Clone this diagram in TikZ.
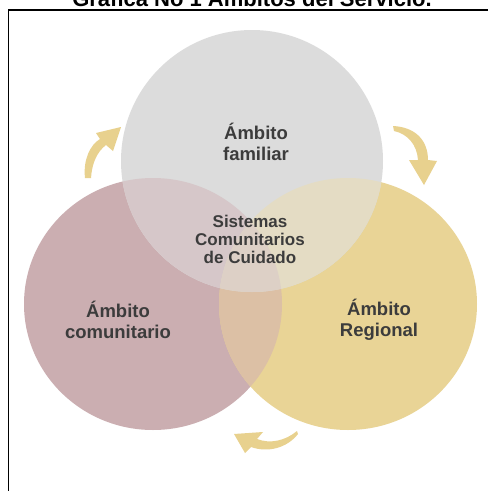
\documentclass[tikz,border=0pt]{standalone}
\usepackage{fontspec}
\setmainfont{Liberation Sans}
\definecolor{cM}{HTML}{CBAEB1}
\definecolor{cY}{HTML}{E9D496}
\definecolor{cG}{HTML}{DCDCDC}
\definecolor{cMY}{HTML}{DCC0A5}
\definecolor{cMG}{HTML}{D6C7C9}
\definecolor{cYG}{HTML}{E4DCC4}
\definecolor{cMYG}{HTML}{DDD0C6}
\definecolor{arrowY}{HTML}{E8D18E}
\definecolor{txt}{HTML}{3C3C3C}
\tikzset{
  lbl/.style={text=txt, align=center, inner sep=0pt, font=\bfseries\fontsize{18.5}{21}\selectfont},
  mid/.style={text=txt, align=center, inner sep=0pt, font=\bfseries\fontsize{17}{18}\selectfont},
  ttl/.style={text=black, inner sep=0pt, anchor=base, font=\bfseries\fontsize{22}{26}\selectfont},
  flow/.style={fill=arrowY}
}
\begin{document}
\begin{tikzpicture}[x=1pt,y=-1pt]
\useasboundingbox (0,0) rectangle (488,491);
\fill[white] (0,0) rectangle (488,491);
\begin{scope}
  \clip (0,0) rectangle (488,491);
  \node[ttl] (title) at (252,6.5) {Grafica No 1 Ámbitos del Servicio.};
  \draw[line width=1.5pt] (8.5,10) rectangle (500,505);
\end{scope}
\coordinate (cm) at (153,304);
\coordinate (cy) at (348,304);
\coordinate (cg) at (252,161);
\def\rx{129pt}\def\ry{126pt}\def\rg{131pt}
\fill[cM] (cm) ellipse [x radius=\rx, y radius=\ry];
\fill[cY] (cy) ellipse [x radius=\rx, y radius=\ry];
\fill[cG] (cg) circle (\rg);
\begin{scope}\clip (cm) ellipse [x radius=\rx, y radius=\ry]; \fill[cMY] (cy) ellipse [x radius=\rx, y radius=\ry];\end{scope}
\begin{scope}\clip (cm) ellipse [x radius=\rx, y radius=\ry]; \fill[cMG] (cg) circle (\rg);\end{scope}
\begin{scope}\clip (cy) ellipse [x radius=\rx, y radius=\ry]; \fill[cYG] (cg) circle (\rg);\end{scope}
\begin{scope}\clip (cm) ellipse [x radius=\rx, y radius=\ry]; \clip (cy) ellipse [x radius=\rx, y radius=\ry]; \fill[cMYG] (cg) circle (\rg);\end{scope}
% arrows
\fill[flow] (297,431) .. controls (285,441) and (270,444) .. (257,439) -- (263,432) -- (234,434) -- (245,453) -- (251,447) .. controls (268,453) and (287,448) .. (298,434) -- cycle;
\fill[flow] (393,126) .. controls (415,127) and (428,140) .. (428,160) -- (437,161) -- (424,185) -- (409,160) -- (418,160) .. controls (417,145) and (408,134) .. (394,131) -- cycle;
\fill[flow] (85,178) .. controls (83,160) and (90,145) .. (100,139) -- (96,133) -- (121,127) -- (113,151) -- (106,145) .. controls (97,152) and (92,163) .. (91,178) -- cycle;
% labels
\node[lbl] (fam) at (256,142) {Ámbito\\familiar};
\node[lbl] (com) at (118,320) {Ámbito\\comunitario};
\node[lbl] (reg) at (379,320) {Ámbito\\Regional};
\node[mid] (sis) at (250,239) {Sistemas\\Comunitarios\\de Cuidado};
\end{tikzpicture}
\end{document}
